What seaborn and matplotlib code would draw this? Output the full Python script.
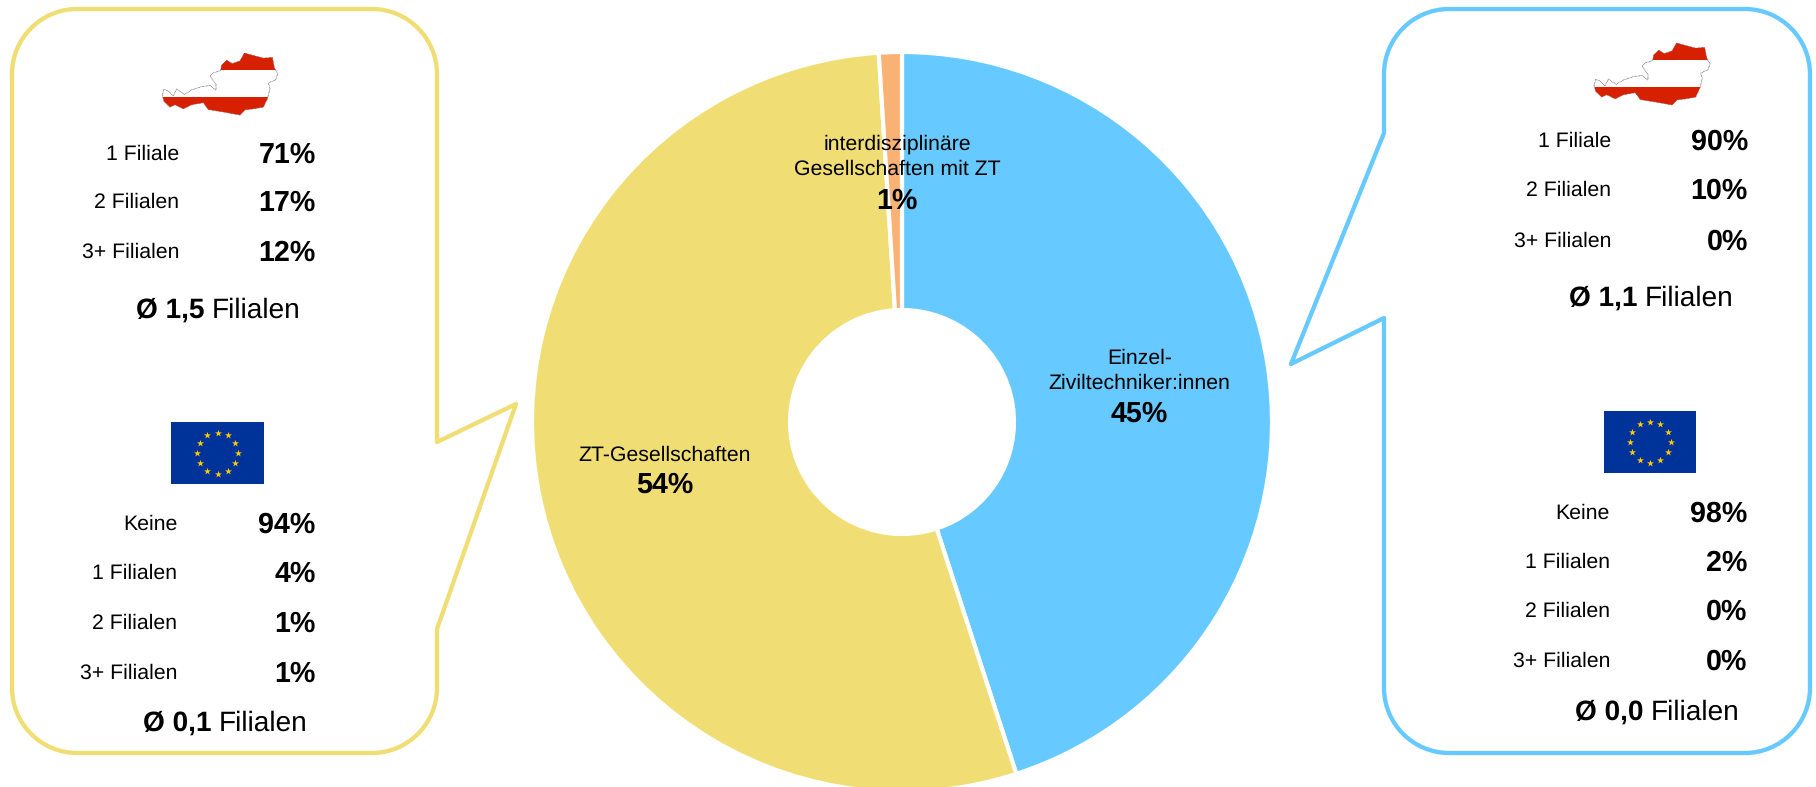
import numpy as np
import matplotlib
matplotlib.use("Agg")
import matplotlib.pyplot as plt
import seaborn as sns
from matplotlib.patches import PathPatch, Polygon, Rectangle
from matplotlib.path import Path

# Kreis: Anteile der Unternehmensformen
segments = ["Einzel-\nZiviltechniker:innen", "ZT-Gesellschaften", "interdisziplinäre\nGesellschaften mit ZT"]
shares = [45, 54, 1]
share_labels = ["45%", "54%", "1%"]

# Filialen Österreich / EU
labels_at = ["1 Filiale", "2 Filialen", "3+ Filialen"]
labels_eu = ["Keine", "1 Filialen", "2 Filialen", "3+ Filialen"]
zt_at = [71, 17, 12]
zt_eu = [94, 4, 1, 1]
einzel_at = [90, 10, 0]
einzel_eu = [98, 2, 0, 0]
zt_mean = ["1,5", "0,1"]
einzel_mean = ["1,1", "0,0"]

palette = sns.color_palette(["#66C9FF", "#F0DE74", "#F9B274"])

# Umriss Österreich (Bildpunkte aus der Vorlage)
austria_outline = [(22, 150), (27, 133), (40, 138), (55, 152), (65, 132), (88, 148), (110, 135), (140, 125),
                   (165, 122), (183, 135), (183, 118), (165, 95), (175, 85), (197, 78), (200, 62), (215, 48),
                   (232, 58), (255, 50), (268, 27), (290, 33), (325, 42), (352, 40), (358, 70), (368, 88),
                   (362, 105), (340, 115), (345, 130), (338, 158), (325, 185), (295, 190), (270, 193),
                   (255, 208), (210, 200), (160, 192), (145, 172), (110, 178), (85, 190), (60, 178),
                   (45, 185), (27, 168)]

sns.set_theme(style="white")
plt.rcParams["font.family"] = ["Liberation Sans", "DejaVu Sans"]
plt.rcParams["text.color"] = "black"
plt.rcParams["text.hinting"] = "no_hinting"

W, H = 1816, 787
fig = plt.figure(figsize=(W / 100, H / 100), dpi=100)

# Kreis, ragt unten etwas aus dem Bild
cx, cy, r = 902, 422, 370
pie_ax = fig.add_axes([(cx - r) / W, 1 - (cy + r) / H, 2 * r / W, 2 * r / H])
pie_ax.pie(shares, colors=palette, startangle=90, counterclock=False, radius=1,
           wedgeprops=dict(width=1 - 112 / r, edgecolor="white", linewidth=3.0))
pie_ax.set_xlim(-1, 1)
pie_ax.set_ylim(-1, 1)
pie_ax.axis("off")

# Zeichenfläche in Bildpunkten
ax = fig.add_axes([0, 0, 1, 1])
ax.set_xlim(0, W)
ax.set_ylim(H, 0)
ax.axis("off")
ax.patch.set_alpha(0)


def bubble(x0, x1, y0, y1, tip, join_top, join_bottom, color, rad=65):
    k = rad * 0.45
    pts = [(x0 + rad, y0), (x1 - rad, y0)]
    codes = [Path.MOVETO, Path.LINETO]
    pts += [(x1 - k, y0), (x1, y0 + k), (x1, y0 + rad)]
    codes += [Path.CURVE4] * 3
    if tip[0] > x1:
        pts += [(x1, join_top), tip, (x1, join_bottom)]
        codes += [Path.LINETO] * 3
    pts += [(x1, y1 - rad), (x1, y1 - k), (x1 - k, y1), (x1 - rad, y1)]
    codes += [Path.LINETO] + [Path.CURVE4] * 3
    pts += [(x0 + rad, y1), (x0 + k, y1), (x0, y1 - k), (x0, y1 - rad)]
    codes += [Path.LINETO] + [Path.CURVE4] * 3
    if tip[0] < x0:
        pts += [(x0, join_bottom), tip, (x0, join_top)]
        codes += [Path.LINETO] * 3
    pts += [(x0, y0 + rad), (x0, y0 + k), (x0 + k, y0), (x0 + rad, y0)]
    codes += [Path.LINETO] + [Path.CURVE4] * 3
    ax.add_patch(PathPatch(Path(pts, codes), facecolor="white", edgecolor=color, lw=3.1,
                           joinstyle="round", zorder=1))


def austria(x0, x1, y0, y1):
    o = np.array(austria_outline, dtype=float)
    o[:, 0] = x0 + (o[:, 0] - 22) / 346 * (x1 - x0)
    o[:, 1] = y0 + (o[:, 1] - 27) / 181 * (y1 - y0)
    shape = Polygon(o, closed=True, facecolor="white", edgecolor="#333333", lw=0.5, ls=(0, (1, 1)), zorder=2)
    ax.add_patch(shape)
    h = y1 - y0
    for top, bottom in [(0, 0.28), (0.707, 1)]:
        band = Rectangle((x0, y0 + top * h), x1 - x0, (bottom - top) * h, facecolor="#D62000", lw=0, zorder=3)
        ax.add_patch(band)
        band.set_clip_path(shape)


def eu_flag(x0, x1, y0, y1):
    ax.add_patch(Rectangle((x0, y0), x1 - x0, y1 - y0, facecolor="#003399", lw=0, zorder=2))
    mx, my = (x0 + x1) / 2, (y0 + y1) / 2
    angles = np.deg2rad(np.arange(0, 360, 30))
    ax.scatter(mx + 20.5 * np.sin(angles), my - 20.5 * np.cos(angles), marker="*", s=28,
               color="#FFCC00", linewidths=0, zorder=3)


def rows(labels, values, ys, x_label, x_value):
    for lab, val, y in zip(labels, values, ys):
        ax.text(x_label, y, lab, ha="right", va="center", fontsize=15.3, zorder=4)
        ax.text(x_value, y + 0.8, f"{val}%", ha="right", va="center", fontsize=20.6, fontweight="bold", zorder=4)


def mean_line(value, x_center, y):
    # fett + normal auf gemeinsamer Grundlinie
    renderer = fig.canvas.get_renderer()
    bold = ax.text(0, y, f"Ø {value}", ha="left", va="baseline", fontsize=20.2, fontweight="bold", zorder=4)
    plain = ax.text(0, y, "Filialen", ha="left", va="baseline", fontsize=20.2, zorder=4)
    w1 = bold.get_window_extent(renderer).width
    w2 = plain.get_window_extent(renderer).width
    gap = 7.7
    start = x_center - (w1 + gap + w2) / 2
    bold.set_x(start)
    plain.set_x(start + w1 + gap)


# linke Sprechblase
bubble(12, 437, 9, 753, (516, 404), 442, 629, palette[1])
austria(162.3, 277.7, 53, 115)
rows(labels_at, zt_at, [154, 202, 252], 179, 316)
mean_line(zt_mean[0], 218, 318)
eu_flag(171, 264, 422, 484)
rows(labels_eu, zt_eu, [524, 573, 623, 673], 177.5, 315.5)
mean_line(zt_mean[1], 225, 731)

# rechte Sprechblase
bubble(1384, 1810, 9, 753, (1291, 364), 133, 318, palette[0])
austria(1594, 1710, 43, 105)
rows(labels_at, einzel_at, [141, 190, 241], 1611, 1748)
mean_line(einzel_mean[0], 1651, 306)
eu_flag(1604, 1696, 411, 473)
rows(labels_eu, einzel_eu, [513, 562, 611, 661], 1610, 1747)
mean_line(einzel_mean[1], 1657, 720)

# Beschriftung im Kreis
seg_pos = [(1139.5, 371, 414), (665, 455, 485), (897, 157, 201)]
for name, lab, (x, y_name, y_val) in zip(segments, share_labels, seg_pos):
    ax.text(x, y_name, name, ha="center", va="center", fontsize=15.3, linespacing=1.33, zorder=4)
    ax.text(x, y_val, lab, ha="center", va="center", fontsize=20.6, fontweight="bold", zorder=4)

fig.savefig("out.png", dpi=100, facecolor="white")
